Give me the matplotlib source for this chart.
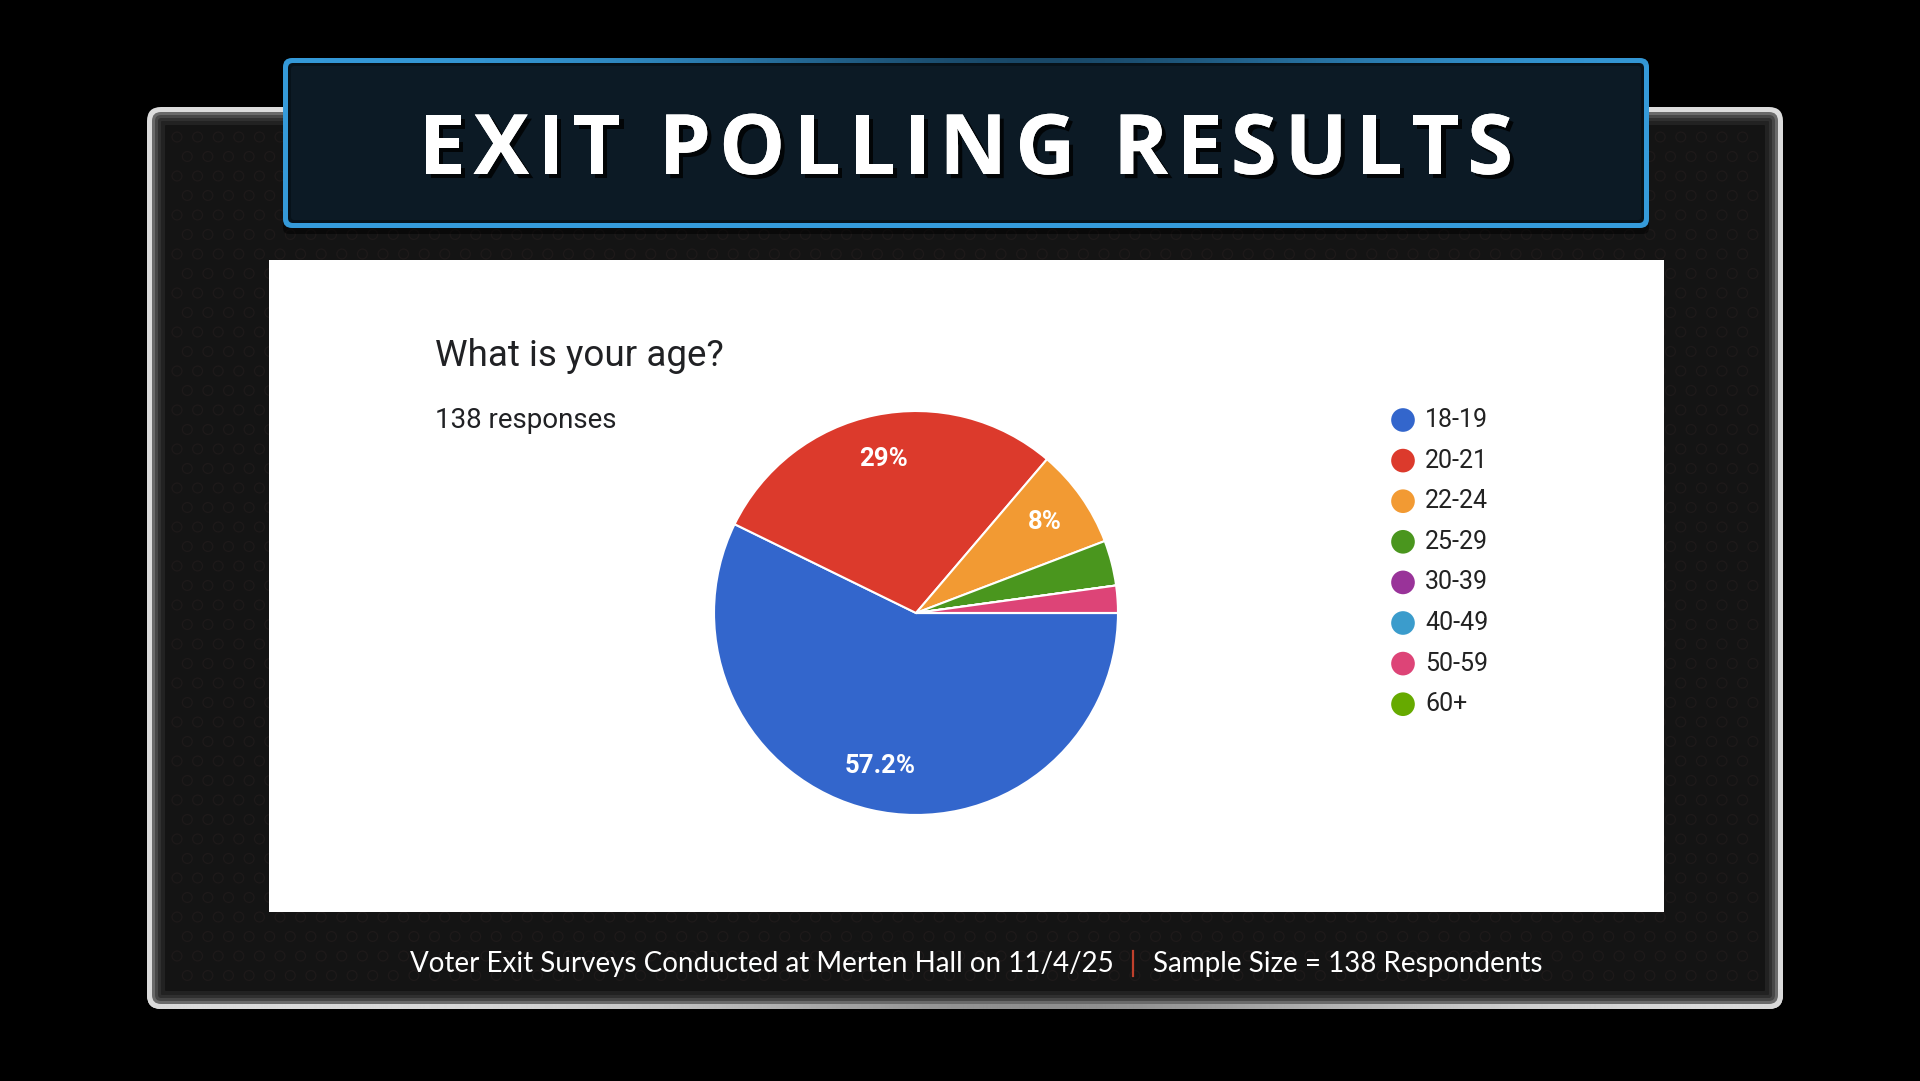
import numpy as np
import matplotlib
matplotlib.use("Agg")
import matplotlib.pyplot as plt
import matplotlib.patheffects as pe
from matplotlib.patches import FancyBboxPatch, Rectangle

# data (138 responses)
age_groups = ["18-19", "20-21", "22-24", "25-29", "30-39", "40-49", "50-59", "60+"]
responses = [79, 40, 11, 5, 0, 0, 3, 0]
slice_colors = ["#3366cc", "#dc3a2c", "#f29a33", "#4a961e",
                "#993399", "#3b9ccc", "#dd4477", "#66aa00"]

banner = "EXIT POLLING RESULTS"
question = "What is your age?"
n_label = f"{sum(responses)} responses"
footer_left = "Voter Exit Surveys Conducted at Merten Hall on 11/4/25"
footer_right = f"Sample Size = {sum(responses)} Respondents"

W, H = 1920, 1081
fig = plt.figure(figsize=(W / 100, H / 100), dpi=100, facecolor="black")
bg = fig.add_axes([0, 0, 1, 1])
bg.set_xlim(0, W)
bg.set_ylim(H, 0)
bg.axis("off")
bg.set_facecolor("black")


def rbox(x0, y0, x1, y1, r, **kw):
    p = FancyBboxPatch((x0 + r, y0 + r), (x1 - x0) - 2 * r, (y1 - y0) - 2 * r,
                       boxstyle=f"round,pad={r}", **kw)
    bg.add_patch(p)
    return p


# ---- outer frame: light rim with soft inner bevel ----
fx0, fy0, fx1, fy1 = 147, 107, 1783, 1009
rim = rbox(fx0, fy0, fx1, fy1, 14, facecolor="#dcdcdc", edgecolor="none", zorder=1)
xs = np.linspace(0, 1, 400)
shade = 0.86 - 0.30 * np.exp(-((xs - 0.55) / 0.22) ** 2)
rim_img = np.tile(shade, (60, 1))
im = bg.imshow(rim_img, cmap="gray", vmin=0, vmax=1, extent=(fx0, fx1, fy1, fy1 - 20),
               aspect="auto", zorder=1.5)
im.set_clip_path(rim)
for inset, col in [(5, "#6a6a6a"), (8, "#474747"), (11, "#303030"),
                   (14, "#222222"), (18, "#141414")]:
    rbox(fx0 + inset, fy0 + inset, fx1 - inset, fy1 - inset, max(14 - inset, 1),
         facecolor=col, edgecolor="none", zorder=2)

# faint circle texture on the frame
gx, gy = np.meshgrid(np.arange(fx0 + 30, fx1 - 20, 20.6), np.arange(fy0 + 30, fy1 - 20, 19.5))
gx = gx + (np.arange(gx.shape[0])[:, None] % 2) * 10.3
bg.scatter(gx.ravel(), gy.ravel(), s=50, facecolors="none", edgecolors="#1e1a1a",
           linewidths=0.9, zorder=2.5)

# ---- white chart panel ----
bg.add_patch(Rectangle((269, 260), 1664 - 269, 912 - 260, facecolor="white",
                       edgecolor="none", zorder=3))

# ---- title banner ----
tx0, ty0, tx1, ty1 = 283, 58, 1649, 228
bg.add_patch(FancyBboxPatch((tx0 + 6, ty0 + 8), tx1 - tx0 - 12, ty1 - ty0 - 8,
                            boxstyle="round,pad=6", facecolor="black", alpha=0.5,
                            edgecolor="none", zorder=3.5))
outer = rbox(tx0, ty0, tx1, ty1, 9, facecolor="#359ad9", edgecolor="none", zorder=4)
top_shade = np.ones((40, 500, 4))
top_shade[..., :3] = np.array([0.09, 0.25, 0.36])
top_shade[..., 3] = np.exp(-((np.linspace(0, 1, 500) - 0.55) / 0.25) ** 2)[None, :] * 0.9
im2 = bg.imshow(top_shade, extent=(tx0, tx1, ty0 + 7, ty0), aspect="auto", zorder=4.2)
im2.set_clip_path(outer)
rbox(tx0 + 5, ty0 + 5, tx1 - 5, ty1 - 5, 5, facecolor="#07121a", edgecolor="none", zorder=4.5)
rbox(tx0 + 8, ty0 + 8, tx1 - 8, ty1 - 8, 3, facecolor="#0c1a25", edgecolor="none", zorder=4.6)

renderer = fig.canvas.get_renderer()
title_kw = dict(fontsize=60, fontweight="bold", family="Open Sans", color="white",
                va="baseline", ha="left", zorder=6)


def text_width(s, **kw):
    t = bg.text(0, 0, s, **kw)
    w = t.get_window_extent(renderer).width
    t.remove()
    return w


tracking = 8
space_w = text_width("I I", **title_kw) - text_width("II", **title_kw)
widths = [space_w if ch == " " else text_width(ch, **title_kw) for ch in banner]
total = sum(widths) + tracking * (len(banner) - 1)
x = (tx0 + tx1) / 2 - total / 2
shadow = [pe.withSimplePatchShadow(offset=(3, -3), shadow_rgbFace="black", alpha=0.8),
          pe.Normal()]
for ch, w in zip(banner, widths):
    if ch != " ":
        bg.text(x, 174, ch, path_effects=shadow, **title_kw)
    x += w + tracking

# ---- chart texts ----
bg.text(435, 356, question, fontsize=26.5, family="Roboto", color="#202124",
        va="center", ha="left", zorder=5)
bg.text(435, 420, n_label, fontsize=20, family="Roboto", color="#202124",
        va="center", ha="left", zorder=5)

# ---- pie ----
cx, cy, r = 916, 613, 203
ax = fig.add_axes([(cx - r) / W, 1 - (cy + r) / H, 2 * r / W, 2 * r / H])
ax.set_zorder(5)


def pct_fmt(p):
    if p < 5:
        return ""
    s = f"{p:.1f}"
    return (s[:-2] if s.endswith(".0") else s) + "%"


ax.pie(responses, colors=slice_colors, startangle=0, counterclock=False,
       autopct=pct_fmt, pctdistance=0.78,
       wedgeprops=dict(edgecolor="white", linewidth=1.5),
       textprops=dict(color="white", fontsize=18.5, fontweight="bold", family="Roboto"))
ax.set_xlim(-1.005, 1.005)
ax.set_ylim(-1.005, 1.005)
ax.axis("off")

# ---- legend ----
leg_y = 420 + 40.6 * np.arange(len(age_groups))
bg.scatter(np.full(len(age_groups), 1403), leg_y, s=290, c=slice_colors,
           edgecolors="none", zorder=5)
for label, y in zip(age_groups, leg_y):
    bg.text(1425, y, label, fontsize=18, family="Roboto", color="#222222",
            va="center", ha="left", zorder=5)

# ---- footer ----
foot_kw = dict(fontsize=20, family="Lato", color="white", va="center", zorder=5)
bg.text(1114, 964, footer_left, ha="right", **foot_kw)
bg.plot([1133, 1133], [951, 976], color="#c0402c", lw=1.6, zorder=5)
bg.text(1153, 964, footer_right, ha="left", **foot_kw)

fig.savefig("out.png", dpi=100, facecolor="black")
